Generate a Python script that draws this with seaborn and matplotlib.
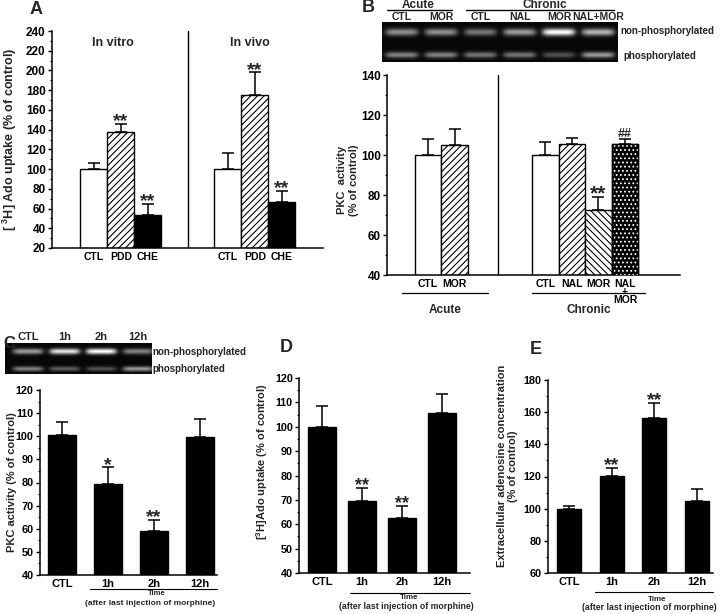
import numpy as np
import matplotlib
matplotlib.use('Agg')
import matplotlib.pyplot as plt
from matplotlib.ticker import MultipleLocator
import seaborn as sns
import pandas as pd

# ---- data ----
# A: [3H]Ado uptake, in vitro / in vivo
a_labels = ['CTL', 'PDD', 'CHE']
a_vitro = [100, 138, 53]
a_vitro_err = [6, 8, 12]
a_vivo = [100, 175, 67]
a_vivo_err = [16, 23, 11]
a_sig = ['', '**', '**']

# B: PKC activity, acute / chronic
b_acute_labels = ['CTL', 'MOR']
b_acute = [100, 105]
b_acute_err = [8, 8]
b_chronic_labels = ['CTL', 'NAL', 'MOR', 'NAL\n+\nMOR']
b_chronic = [100, 105.5, 72.5, 105.5]
b_chronic_err = [6.5, 3, 6.5, 2.3]
b_chronic_sig = ['', '', '**', '##']
b_gel_lanes = ['CTL', 'MOR', 'CTL', 'NAL', 'MOR', 'NAL+MOR']
b_gel_upper = [0.55, 0.55, 0.45, 0.6, 1.0, 0.7]
b_gel_lower = [0.5, 0.5, 0.45, 0.45, 0.3, 0.6]

# C-E: time after last injection of morphine
time_labels = ['CTL', '1h', '2h', '12h']
c_vals = [100.5, 79.5, 59, 99.5]
c_err = [5.5, 7, 5, 8]
c_sig = ['', '*', '**', '']
c_gel_upper = [0.6, 0.9, 1.0, 0.5]
c_gel_lower = [0.5, 0.35, 0.3, 0.6]
d_vals = [100, 69.5, 62.5, 105.5]
d_err = [8.5, 5.5, 5, 8]
d_sig = ['', '**', '**', '']
e_vals = [100, 120.5, 156.5, 104.5]
e_err = [1.5, 5, 9.5, 8]
e_sig = ['', '**', '**', '']

sns.set_theme(style='ticks')
plt.rcParams['font.family'] = ['Liberation Sans', 'DejaVu Sans']
plt.rcParams['font.weight'] = 'bold'
plt.rcParams['axes.labelweight'] = 'bold'
plt.rcParams['mathtext.fontset'] = 'custom'
plt.rcParams['mathtext.rm'] = 'Liberation Sans:bold'
plt.rcParams['mathtext.bf'] = 'Liberation Sans:bold'
plt.rcParams['hatch.linewidth'] = 0.8

W, H = 720, 614
fig = plt.figure(figsize=(W / 100, H / 100), dpi=100)


def px_axes(x0, y0, x1, y1):
    return fig.add_axes([x0 / W, 1 - y1 / H, (x1 - x0) / W, (y1 - y0) / H])


def style(ax, lo, hi, major, minor, fs, xin=False):
    sns.despine(ax=ax)
    ax.set_ylim(lo, hi)
    ax.yaxis.set_major_locator(MultipleLocator(major))
    ax.yaxis.set_minor_locator(MultipleLocator(minor))
    for s in ['left', 'bottom']:
        ax.spines[s].set_linewidth(1.1)
        ax.spines[s].set_color('black')
    ax.tick_params(axis='y', which='major', direction='out', length=3, width=1, labelsize=fs, pad=1.5, colors='black')
    ax.tick_params(axis='y', which='minor', direction='out', length=1.8, width=0.8, colors='black')
    if xin:
        ax.tick_params(axis='x', direction='in', length=2.5, width=1, pad=3, colors='black')
    else:
        ax.tick_params(axis='x', length=0, pad=3, colors='black')


def errs(ax, xs, vals, err):
    ax.errorbar(xs, vals, yerr=[np.zeros(len(vals)), err], fmt='none', ecolor='black',
                elinewidth=1.1, capsize=4, capthick=1.1, zorder=1)


def marks(ax, xs, tops, sig, fs):
    for x, t, m in zip(xs, tops, sig):
        if not m:
            continue
        if '*' in m:
            size, off = fs, -0.12 * fs
        else:
            size, off = fs * 0.6, 1.5
        ax.annotate(m, (x, t), xytext=(0, off), textcoords='offset points',
                    ha='center', va='baseline', fontsize=size)


def gel(ax, upper, lower, xlim, y_up, y_low):
    xs = np.linspace(xlim[0], xlim[1], 500)
    ys = np.linspace(0, 1, 120)
    X, Y = np.meshgrid(xs, ys)
    img = np.zeros_like(X)
    for i, (u, l) in enumerate(zip(upper, lower)):
        lane = np.exp(-((X - (i + 0.5)) / 0.42) ** 6)
        img += lane * (u * np.exp(-((Y - y_up) / 0.09) ** 2) + l * np.exp(-((Y - y_low) / 0.075) ** 2))
    ax.imshow(img, cmap='gray', vmin=-0.03, vmax=1.0, origin='lower',
              extent=(xlim[0], xlim[1], 0, 1), aspect='auto', interpolation='bilinear')
    ax.set_xlim(*xlim)
    ax.set_ylim(0, 1)
    ax.set_xticks([])
    ax.set_yticks([])
    for s in ax.spines.values():
        s.set_visible(False)


# ---------------- Panel A ----------------
axA = px_axes(52, 31, 323, 248)
pos_vitro = [1.55, 2.55, 3.55]
pos_vivo = [6.52, 7.52, 8.52]
a_face = ['white', 'white', 'black']
a_hatch = ['', '/////', '']
for pos, vals, err in [(pos_vitro, a_vitro, a_vitro_err), (pos_vivo, a_vivo, a_vivo_err)]:
    errs(axA, pos, vals, err)
    for x, v, fc, h in zip(pos, vals, a_face, a_hatch):
        axA.bar(x, v, width=1, color=fc, edgecolor='black', hatch=h, linewidth=1, zorder=2)
    marks(axA, pos, np.add(vals, err), a_sig, 14)
style(axA, 20, 240, 20, 10, 8.5)
axA.set_xlim(0, 10.04)
axA.axvline(5.04, color='black', lw=1)
axA.set_xticks(pos_vitro + pos_vivo)
axA.set_xticklabels(a_labels * 2, fontsize=7.5)
axA.text(2.27, 228, 'In vitro', ha='center', va='center', fontsize=9)
axA.text(7.33, 228, 'In vivo', ha='center', va='center', fontsize=9)
axA.set_ylabel('[ $^{3}$H] Ado uptake (% of control)', fontsize=9)
axA.yaxis.set_label_coords(-0.122, 0.5)
fig.text(30 / W, 1 - 9 / H, 'A', fontsize=13, fontweight='bold', va='center')

# ---------------- Panel B ----------------
axB = px_axes(387, 75, 680, 275)
pos_acute = [1.55, 2.55]
pos_chronic = [5.98, 6.98, 7.98, 8.98]
errs(axB, pos_acute, b_acute, b_acute_err)
errs(axB, pos_chronic, b_chronic, b_chronic_err)
for x, v, h in zip(pos_acute, b_acute, ['', '/////']):
    axB.bar(x, v, width=1, color='white', edgecolor='black', hatch=h, linewidth=1, zorder=2)
b_face = ['white', 'white', 'white', 'black']
b_hatch = ['', '/////', '\\\\\\\\\\', '']
for x, v, fc, h in zip(pos_chronic, b_chronic, b_face, b_hatch):
    axB.bar(x, v, width=1, color=fc, edgecolor='black', hatch=h, linewidth=1, zorder=2)
# dotted fill on the last chronic bar
axB.bar(pos_chronic[-1], b_chronic[-1], width=1, color='none', edgecolor='white',
        hatch='....', linewidth=0, zorder=3)
axB.bar(pos_chronic[-1], b_chronic[-1], width=1, color='none', edgecolor='black',
        linewidth=1, zorder=4)
marks(axB, pos_chronic, np.add(b_chronic, b_chronic_err), b_chronic_sig, 15)
style(axB, 40, 140, 20, 10, 8.5)
axB.set_xlim(0, 11.06)
axB.axvline(4.19, color='black', lw=1)
axB.set_xticks(pos_acute + pos_chronic)
axB.set_xticklabels(b_acute_labels + b_chronic_labels, fontsize=7.5, linespacing=0.75)
axB.set_ylabel('PKC  activity\n(% of control)', fontsize=8)
axB.yaxis.set_label_coords(-0.096, 0.475)
tB = axB.get_xaxis_transform()
axB.plot([0.57, 3.81], [-0.09, -0.09], color='black', lw=0.9, transform=tB, clip_on=False)
axB.plot([5.47, 9.74], [-0.09, -0.09], color='black', lw=0.9, transform=tB, clip_on=False)
axB.text(2.19, -0.175, 'Acute', transform=tB, ha='center', va='center', fontsize=8.5)
axB.text(7.6, -0.175, 'Chronic', transform=tB, ha='center', va='center', fontsize=8.5)

gB = px_axes(382, 22, 618, 62)
gel(gB, b_gel_upper, b_gel_lower, (0, 6), 0.75, 0.175)
tg = gB.get_xaxis_transform()
for i, lab in enumerate(b_gel_lanes):
    gB.text(i + 0.5, 1.125, lab, transform=tg, ha='center', va='center', fontsize=7.5)
gB.plot([0.13, 1.78], [1.3, 1.3], color='black', lw=1, transform=tg, clip_on=False)
gB.plot([2.14, 5.9], [1.3, 1.3], color='black', lw=1, transform=tg, clip_on=False)
gB.text(0.92, 1.42, 'Acute', transform=tg, ha='center', va='center', fontsize=8.5)
gB.text(4.15, 1.42, 'Chronic', transform=tg, ha='center', va='center', fontsize=8.5)
gB.text(1.012, 0.78, 'non-phosphorylated', transform=gB.transAxes, ha='left', va='center', fontsize=7)
gB.text(1.025, 0.15, 'phosphorylated', transform=gB.transAxes, ha='left', va='center', fontsize=7)
fig.text(362 / W, 1 - 8 / H, 'B', fontsize=13, fontweight='bold', va='center')


# ---------------- Panels C, D, E ----------------
def time_panel(rect, vals, err, sig, lo, hi, major, minor, xlim, width, star_fs,
               ylabel, lab_xy, line, y_line, time_x, y_time, after_x, y_after, note_fs):
    ax = px_axes(*rect)
    df = pd.DataFrame({'time': time_labels, 'value': vals})
    errs(ax, range(4), vals, err)
    sns.barplot(data=df, x='time', y='value', order=time_labels, color='black',
                saturation=1, errorbar=None, width=width, edgecolor='black', ax=ax, zorder=2)
    marks(ax, range(4), np.add(vals, err), sig, star_fs)
    style(ax, lo, hi, major, minor, 7.8, xin=True)
    ax.set_xlim(*xlim)
    ax.set_xlabel('')
    ax.set_xticks(range(4))
    ax.set_xticklabels(time_labels, fontsize=8)
    ax.set_ylabel(ylabel, fontsize=8)
    ax.yaxis.set_label_coords(*lab_xy)
    tr = ax.get_xaxis_transform()
    ax.plot(line, [y_line, y_line], color='black', lw=0.8, transform=tr, clip_on=False)
    ax.text(time_x, y_time, 'Time', transform=tr, ha='center', va='center', fontsize=note_fs - 0.5)
    ax.text(after_x, y_after, '(after last injection of morphine)', transform=tr,
            ha='center', va='center', fontsize=note_fs)
    return ax


time_panel((40, 390, 217, 575), c_vals, c_err, c_sig, 40, 120, 10, 5, (-0.48, 3.37), 0.6, 14,
           'PKC activity (% of control)', (-0.13, 0.5), (0.61, 3.37), -0.076,
           2.06, -0.099, 1.91, -0.153, 6)
gC = px_axes(5, 343, 152, 374)
gel(gC, c_gel_upper, c_gel_lower, (-0.13, 3.88), 0.71, 0.16)
tc = gC.get_xaxis_transform()
for i, lab in enumerate(time_labels):
    gC.text(i + 0.5, 1.2, lab, transform=tc, ha='center', va='center', fontsize=8)
gC.text(1.0, 0.71, 'non-phosphorylated', transform=gC.transAxes, ha='left', va='center', fontsize=7)
gC.text(1.0, 0.16, 'phosphorylated', transform=gC.transAxes, ha='left', va='center', fontsize=7)
fig.text(3 / W, 1 - 344 / H, 'C', fontsize=12, fontweight='bold', va='center')

time_panel((299, 378, 470, 573), d_vals, d_err, d_sig, 40, 120, 10, 5, (-0.575, 3.7), 0.68, 13,
           '[$^{3}$H]Ado uptake (% of control)', (-0.17, 0.57), (0.7, 3.7), -0.103,
           2.18, -0.128, 2.1, -0.174, 6.3)
fig.text(280 / W, 1 - 348 / H, 'D', fontsize=13, fontweight='bold', va='center')

time_panel((548, 380, 713, 573), e_vals, e_err, e_sig, 60, 180, 20, 10, (-0.49, 3.37), 0.56, 14,
           'Extracellular adenosine concentration\n(% of control)', (-0.18, 0.554),
           (0.61, 3.37), -0.098, 2.06, -0.135, 1.88, -0.181, 6.3)
fig.text(530 / W, 1 - 350 / H, 'E', fontsize=13, fontweight='bold', va='center')

fig.savefig('out.png', dpi=100)
